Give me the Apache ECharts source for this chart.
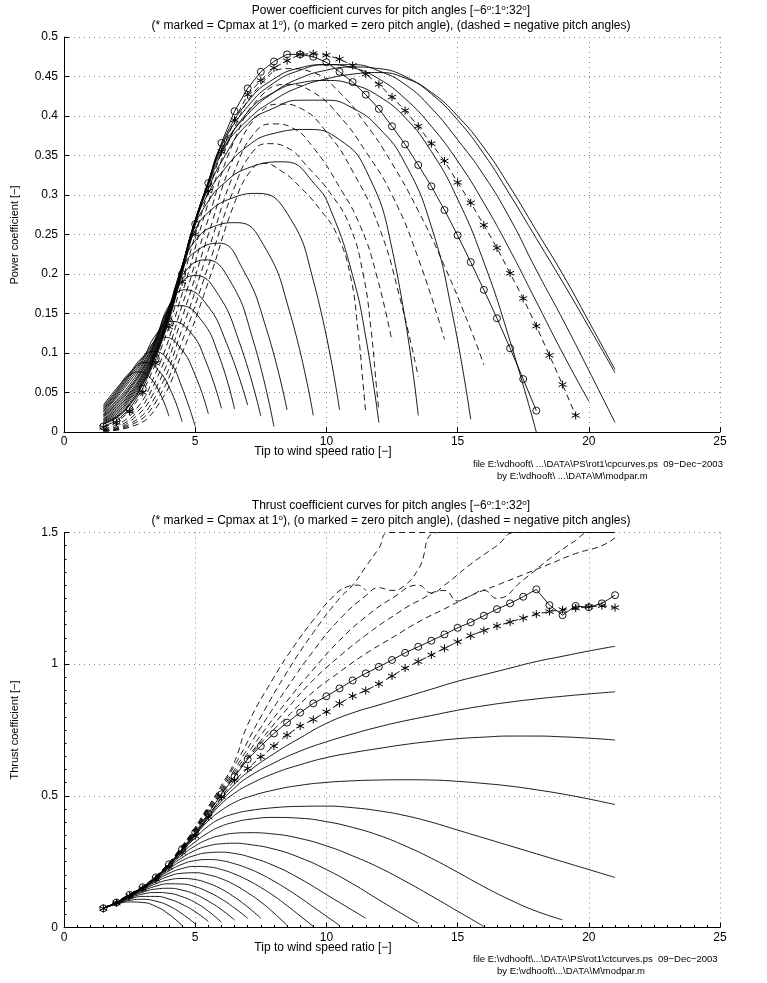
<!DOCTYPE html>
<html><head><meta charset="utf-8">
<script src="https://cdn.jsdelivr.net/npm/echarts@6/dist/echarts.min.js"></script>
<style>html,body{margin:0;padding:0;background:#fff}#c{width:767px;height:983px}</style>
</head><body><div id="c"></div><script>
// ---------- ticks ----------
const xTicks = [0, 5, 10, 15, 20, 25];
const cpTicks = [0, 0.05, 0.1, 0.15, 0.2, 0.25, 0.3, 0.35, 0.4, 0.45, 0.5];
const ctTicks = [0, 0.5, 1, 1.5];
// ---------- tip speed ratio grid for marked curves ----------
const lam = [1.5,2,2.5,3,3.5,4,4.5,5,5.5,6,6.5,7,7.5,8,8.5,9,9.5,10,10.5,11,11.5,12,12.5,13,13.5,14,14.5,15,15.5,16,16.5,17,17.5,18,18.5,19,19.5,20,20.5,21];
// ---------- power coefficient: zero pitch (o) and 1 deg (*) ----------
const cpZero = [0.007,0.014,0.029,0.055,0.093,0.14,0.20,0.263,0.315,0.366,0.406,0.435,0.456,0.469,0.478,0.478,0.475,0.468,0.456,0.443,0.427,0.409,0.387,0.364,0.338,0.311,0.281,0.249,0.215,0.18,0.144,0.106,0.067,0.027];
const cpOne = [0.006,0.012,0.026,0.05,0.087,0.133,0.19,0.25,0.305,0.355,0.395,0.427,0.445,0.461,0.47,0.478,0.479,0.477,0.472,0.464,0.453,0.44,0.424,0.407,0.387,0.365,0.343,0.316,0.29,0.262,0.233,0.201,0.169,0.134,0.097,0.06,0.021];
// ---------- power coefficient: negative pitch (dashed) ----------
const cpNeg1 = [[1.5,0.004],[2.5,0.02],[3.5,0.075],[4.5,0.175],[5.5,0.29],[6.5,0.385],[7.5,0.44],[8.5,0.46],[9.5,0.455],[10.5,0.43],[11.5,0.39],[12.5,0.34],[13.5,0.28],[14.5,0.21],[15.5,0.13],[16,0.085]];
const cpNeg2 = [[1.5,0.003],[2.5,0.016],[3.5,0.065],[4.5,0.16],[5.5,0.27],[6.5,0.37],[7.5,0.425],[8.5,0.44],[9.5,0.43],[10.5,0.4],[11.5,0.355],[12.5,0.3],[13.5,0.22],[14.5,0.117]];
const cpNeg3 = [[1.5,0.002],[2.5,0.013],[3.5,0.055],[4.5,0.145],[5.5,0.25],[6.5,0.35],[7.5,0.405],[8.3,0.415],[9,0.41],[10,0.38],[11,0.33],[12,0.26],[12.8,0.17],[13.5,0.07]];
const cpNeg4 = [[1.5,0.002],[2.5,0.01],[3.5,0.046],[4.5,0.13],[5.5,0.23],[6.5,0.33],[7.3,0.38],[8,0.39],[8.7,0.385],[9.5,0.36],[10.5,0.31],[11.3,0.26],[11.9,0.2],[12.5,0.115]];
const cpNeg5 = [[1.5,0.001],[2.5,0.008],[3.5,0.038],[4.5,0.115],[5.5,0.21],[6.5,0.31],[7.2,0.355],[7.8,0.365],[8.5,0.36],[9.3,0.335],[10.2,0.3],[10.9,0.26],[11.4,0.2],[11.7,0.13],[11.9,0.06],[12,0.026]];
const cpNeg6 = [[1.5,0.001],[2.5,0.006],[3.5,0.03],[4.5,0.1],[5.5,0.19],[6.5,0.29],[7.1,0.33],[7.6,0.34],[8.3,0.33],[9,0.31],[9.8,0.28],[10.4,0.25],[10.9,0.2],[11.2,0.13],[11.4,0.06],[11.5,0.024]];
// ---------- power coefficient: positive pitch (solid) ----------
const cpP01 = [[1.5,0.034],[2,0.055],[2.5,0.072],[2.9,0.076],[3.3,0.068],[3.7,0.046],[4,0.02]];
const cpP02 = [[1.5,0.032],[2,0.053],[2.5,0.075],[3.1,0.088],[3.6,0.078],[4.1,0.05],[4.5,0.013]];
const cpP03 = [[1.5,0.03],[2,0.051],[2.5,0.074],[3,0.095],[3.4,0.102],[4,0.09],[4.5,0.056],[5,0.007]];
const cpP04 = [[1.5,0.029],[2,0.049],[2.5,0.072],[3,0.094],[3.5,0.116],[3.8,0.12],[4.4,0.108],[5,0.072],[5.5,0.023]];
const cpP05 = [[1.5,0.027],[2,0.047],[2.5,0.07],[3,0.092],[3.5,0.123],[4.1,0.14],[4.8,0.127],[5.4,0.09],[6,0.03]];
const cpP06 = [[1.5,0.026],[2,0.045],[2.5,0.067],[3,0.09],[3.5,0.12],[4,0.155],[4.4,0.16],[5.2,0.143],[5.9,0.097],[6.5,0.029]];
const cpP07 = [[1.5,0.025],[2,0.043],[2.5,0.064],[3,0.087],[3.5,0.118],[4,0.16],[4.6,0.18],[5.4,0.163],[6.2,0.112],[7,0.034]];
const cpP08 = [[1.5,0.023],[2,0.04],[2.5,0.06],[3,0.085],[3.5,0.117],[4,0.158],[4.5,0.19],[5,0.198],[5.8,0.178],[6.7,0.112],[7.5,0.02]];
const cpP09 = [[1.5,0.022],[2,0.038],[2.5,0.057],[3,0.082],[3.5,0.115],[4,0.158],[4.5,0.198],[5.4,0.218],[6.3,0.193],[7.2,0.117],[8,0.007]];
const cpP10 = [[1.5,0.021],[2,0.036],[2.5,0.055],[3,0.08],[3.5,0.114],[4,0.156],[4.5,0.205],[5,0.228],[5.9,0.239],[6.8,0.207],[7.7,0.132],[8.5,0.028]];
const cpP11 = [[1.5,0.02],[2,0.034],[2.5,0.053],[3,0.078],[3.5,0.112],[4,0.155],[4.5,0.21],[5,0.242],[5.7,0.26],[6.6,0.265],[7.6,0.237],[8.6,0.152],[9.5,0.021]];
const cpP12 = [[1.5,0.019],[2,0.032],[2.5,0.05],[3,0.075],[3.5,0.11],[4,0.154],[4.5,0.21],[5,0.255],[5.5,0.278],[6.4,0.296],[7.4,0.302],[8.5,0.277],[9.5,0.192],[10.5,0.028]];
const cpP13 = [[1.5,0.017],[2,0.03],[2.5,0.048],[3,0.073],[3.5,0.108],[4,0.152],[4.5,0.21],[5,0.262],[5.5,0.292],[6,0.312],[7,0.334],[8.4,0.342],[9.6,0.312],[10.2,0.278],[11,0.198],[11.5,0.12],[12,0.012]];
const cpP14 = [[1.5,0.016],[2,0.028],[2.5,0.046],[3,0.071],[3.5,0.106],[4,0.15],[4.5,0.21],[5,0.266],[5.5,0.302],[6,0.328],[7,0.362],[8,0.378],[9.3,0.383],[10.5,0.37],[11.5,0.332],[12.5,0.232],[13.5,0.021]];
const cpP15 = [[1.5,0.015],[2,0.026],[2.5,0.044],[3,0.069],[3.5,0.104],[4,0.149],[4.5,0.209],[5,0.268],[5.5,0.308],[6,0.342],[7,0.39],[8,0.41],[9,0.42],[10,0.42],[11,0.41],[12,0.385],[13,0.34],[14,0.26],[14.8,0.15],[15.5,0.016]];
const cpP16 = [[1.5,0.014],[2,0.024],[2.5,0.042],[3,0.067],[3.5,0.103],[4,0.148],[4.5,0.208],[5,0.268],[5.5,0.312],[6,0.352],[7,0.405],[8,0.43],[9,0.442],[10,0.445],[11,0.44],[12,0.425],[13,0.398],[14,0.355],[15,0.295],[16,0.215],[17,0.115],[18,0.0]];
const cpP17 = [[1.5,0.013],[2,0.022],[2.5,0.04],[3,0.065],[3.5,0.101],[4,0.147],[4.5,0.207],[5,0.268],[5.5,0.314],[6,0.355],[7,0.395],[8,0.42],[9,0.437],[10,0.447],[11,0.453],[12,0.455],[13,0.448],[14,0.43],[15,0.4],[16,0.36],[17,0.31],[18,0.255],[19,0.2],[20,0.14],[21,0.079]];
const cpP18 = [[1.5,0.012],[2,0.02],[2.5,0.037],[3,0.063],[3.5,0.1],[4,0.146],[4.5,0.206],[5,0.268],[5.5,0.316],[6,0.358],[7,0.402],[8,0.43],[9,0.448],[10,0.458],[11,0.462],[12,0.46],[13,0.45],[14,0.428],[15,0.395],[16,0.352],[17,0.3],[18,0.245],[19,0.19],[20,0.133],[21,0.075]];
const cpP19 = [[1.5,0.011],[2,0.019],[2.5,0.035],[3,0.061],[3.5,0.098],[4,0.145],[4.5,0.205],[5,0.267],[5.5,0.317],[6,0.362],[7,0.412],[8,0.442],[9,0.458],[10,0.465],[11,0.465],[12,0.457],[13,0.44],[14,0.41],[15,0.37],[16,0.325],[17,0.27],[18,0.205],[19,0.143],[20,0.078],[21,0.012]];
const cpP20 = [[1.5,0.01],[2,0.018],[2.5,0.034],[3,0.06],[3.5,0.097],[4,0.144],[4.5,0.204],[5,0.266],[5.5,0.317],[6,0.364],[7,0.418],[8,0.447],[9,0.461],[10,0.465],[11,0.461],[12,0.447],[13,0.422],[14,0.387],[15,0.343],[16,0.29],[17,0.23],[18,0.165],[19,0.1],[20,0.039]];
// ---------- thrust coefficient: zero pitch (o) and 1 deg (*) ----------
const ctZero = [0.073,0.095,0.124,0.153,0.19,0.24,0.298,0.361,0.433,0.506,0.573,0.639,0.689,0.737,0.778,0.816,0.851,0.878,0.908,0.938,0.965,0.99,1.016,1.043,1.066,1.089,1.113,1.138,1.159,1.184,1.209,1.231,1.256,1.284,1.224,1.186,1.221,1.216,1.231,1.262];
const ctOne = [0.072,0.093,0.12,0.148,0.183,0.23,0.285,0.347,0.42,0.497,0.56,0.604,0.648,0.689,0.731,0.765,0.79,0.819,0.851,0.879,0.9,0.925,0.955,0.985,1.01,1.035,1.06,1.085,1.108,1.128,1.145,1.16,1.175,1.19,1.2,1.207,1.213,1.218,1.222,1.215];
// ---------- thrust coefficient: negative pitch (dashed) ----------
const ctNeg6 = [[1.5,0.074],[2.5,0.126],[3.5,0.196],[4.5,0.31],[5.5,0.46],[6,0.54],[6.5,0.63],[7,0.77],[8,0.95],[8.75,1.066],[9.5,1.167],[10.25,1.256],[10.8,1.294],[11.2,1.3],[11.5,1.28]];
const ctNeg5 = [[1.5,0.074],[2.5,0.126],[3.5,0.195],[4.5,0.308],[5.5,0.455],[6.5,0.615],[7.5,0.8],[8.5,0.97],[9.5,1.12],[10.5,1.25],[11,1.3],[11.5,1.37],[12,1.44],[12.4,1.5],[21,1.5]];
const ctNeg4 = [[1.5,0.074],[2.5,0.125],[3.5,0.194],[4.5,0.305],[5.5,0.45],[6.5,0.6],[7.5,0.76],[8.5,0.91],[9.5,1.05],[10.5,1.17],[11.5,1.26],[12,1.29],[12.5,1.28],[13,1.3],[13.5,1.36],[14.3,1.5],[21,1.5]];
const ctNeg3 = [[1.5,0.074],[2.5,0.125],[3.5,0.193],[4.5,0.303],[5.5,0.445],[6.5,0.59],[7.5,0.73],[8.5,0.86],[9.5,0.98],[10.5,1.09],[11.5,1.18],[12.5,1.25],[13.5,1.3],[14,1.27],[14.5,1.3],[15.5,1.38],[16.5,1.45],[17.2,1.5],[21,1.5]];
const ctNeg2 = [[1.5,0.074],[2.5,0.125],[3.5,0.192],[4.5,0.302],[5.5,0.44],[6.5,0.58],[7.5,0.71],[8.5,0.83],[9.5,0.94],[10.5,1.03],[11.5,1.11],[12.5,1.18],[13.5,1.24],[14.5,1.28],[15,1.24],[15.5,1.26],[16,1.28],[16.5,1.25],[17.5,1.32],[18.5,1.4],[19.5,1.47],[20,1.5],[21,1.5]];
const ctNeg1 = [[1.5,0.074],[2.5,0.125],[3.5,0.191],[4.5,0.3],[5.5,0.437],[6.5,0.575],[7.5,0.7],[8.5,0.8],[9.5,0.895],[10.5,0.97],[11.5,1.04],[12.5,1.1],[13.5,1.16],[14.5,1.21],[15.5,1.26],[16.5,1.3],[17.5,1.34],[18.5,1.38],[19.5,1.42],[20.5,1.45],[21,1.48]];
// ---------- thrust coefficient: positive pitch (solid) ----------
const ctP01 = [[1.5,0.073],[2,0.088],[2.5,0.097],[3,0.095],[3.5,0.08],[4,0.05],[4.5,0.008]];
const ctP02 = [[1.5,0.073],[2,0.09],[2.5,0.103],[3,0.107],[3.5,0.1],[4,0.082],[4.5,0.052],[5,0.014]];
const ctP03 = [[1.5,0.073],[2,0.091],[2.5,0.108],[3,0.118],[3.5,0.118],[4,0.108],[4.5,0.088],[5,0.06],[5.5,0.023]];
const ctP04 = [[1.5,0.073],[2,0.092],[2.5,0.112],[3,0.127],[3.5,0.133],[4,0.13],[4.5,0.117],[5,0.095],[5.5,0.062],[6,0.02]];
const ctP05 = [[1.5,0.073],[2,0.093],[2.5,0.115],[3,0.134],[3.5,0.146],[4,0.149],[4.5,0.142],[5,0.126],[5.5,0.1],[6,0.068],[6.5,0.028]];
const ctP06 = [[1.5,0.073],[2,0.093],[2.5,0.117],[3,0.139],[3.5,0.157],[4,0.166],[4.5,0.165],[5,0.155],[5.5,0.135],[6,0.108],[6.5,0.074],[7,0.035]];
const ctP07 = [[1.5,0.073],[2,0.094],[2.5,0.118],[3,0.143],[3.5,0.166],[4,0.181],[4.5,0.186],[5,0.182],[5.5,0.168],[6,0.146],[6.5,0.115],[7,0.078],[7.5,0.035]];
const ctP08 = [[1.5,0.073],[2,0.094],[2.5,0.119],[3,0.146],[3.5,0.173],[4,0.195],[4.5,0.206],[5,0.208],[5.5,0.2],[6,0.185],[6.5,0.162],[7,0.132],[7.5,0.097],[8,0.055],[8.5,0.008]];
const ctP09 = [[1.5,0.073],[2,0.094],[2.5,0.12],[3,0.148],[3.5,0.178],[4,0.206],[4.5,0.224],[5,0.232],[5.5,0.23],[6,0.22],[6.5,0.203],[7,0.18],[7.5,0.152],[8,0.12],[8.5,0.083],[9,0.044],[9.5,0.004]];
const ctP10 = [[1.5,0.073],[2,0.094],[2.5,0.121],[3,0.15],[3.5,0.182],[4,0.215],[4.5,0.24],[5,0.254],[5.5,0.258],[6,0.254],[6.5,0.242],[7,0.225],[7.5,0.203],[8,0.176],[8.5,0.146],[9,0.113],[9.5,0.078],[10,0.043],[10.5,0.008]];
const ctP11 = [[1.5,0.073],[2,0.094],[2.5,0.121],[3,0.151],[3.5,0.185],[4,0.222],[4.5,0.254],[5,0.274],[5.5,0.284],[6,0.286],[6.5,0.281],[7,0.27],[8,0.235],[9,0.185],[10,0.125],[11,0.065],[11.5,0.035]];
const ctP12 = [[1.5,0.073],[2,0.094],[2.5,0.122],[3,0.152],[3.5,0.187],[4,0.228],[4.5,0.265],[5,0.293],[5.5,0.31],[6,0.318],[6.5,0.32],[7,0.316],[8,0.298],[9,0.265],[10,0.22],[11,0.166],[12,0.105],[13,0.045],[13.5,0.016]];
const ctP13 = [[1.5,0.073],[2,0.094],[2.5,0.122],[3,0.152],[3.5,0.188],[4,0.232],[4.5,0.275],[5,0.31],[5.5,0.335],[6,0.35],[6.5,0.358],[7,0.36],[8,0.355],[9,0.338],[10,0.31],[11,0.272],[12,0.228],[13,0.176],[14,0.12],[15,0.062],[16,0.004]];
const ctP14 = [[1.5,0.073],[2,0.094],[2.5,0.123],[3,0.153],[3.5,0.189],[4,0.235],[4.5,0.283],[5,0.325],[5.5,0.36],[6,0.385],[6.5,0.4],[7,0.41],[8,0.418],[9,0.415],[10,0.402],[11,0.38],[12,0.35],[13,0.31],[14,0.263],[15,0.21],[16,0.155],[17,0.105],[18,0.062],[19,0.029]];
const ctP15 = [[1.5,0.073],[2,0.094],[2.5,0.123],[3,0.153],[3.5,0.19],[4,0.237],[4.5,0.29],[5,0.34],[5.5,0.385],[6,0.415],[6.5,0.432],[7,0.443],[8,0.455],[9,0.46],[10,0.461],[11,0.455],[12,0.443],[13,0.425],[14,0.4],[15,0.37],[16,0.34],[17,0.31],[18,0.28],[19,0.25],[20,0.22],[21,0.19]];
const ctP16 = [[1.5,0.073],[2,0.094],[2.5,0.123],[3,0.153],[3.5,0.19],[4,0.238],[4.5,0.293],[5,0.35],[5.5,0.405],[6,0.445],[6.5,0.475],[7,0.495],[8,0.522],[9,0.54],[10,0.551],[11,0.557],[12,0.56],[13,0.561],[14,0.56],[15,0.555],[16,0.547],[17,0.537],[18,0.523],[19,0.507],[20,0.488],[21,0.467]];
const ctP17 = [[1.5,0.073],[2,0.095],[2.5,0.124],[3,0.153],[3.5,0.19],[4,0.238],[4.5,0.294],[5,0.353],[5.5,0.415],[6,0.47],[6.5,0.51],[7,0.54],[8,0.585],[9,0.618],[10,0.645],[11,0.664],[12,0.68],[13,0.695],[14,0.707],[15,0.717],[16,0.723],[17,0.727],[18,0.727],[19,0.724],[20,0.719],[21,0.712]];
const ctP18 = [[1.5,0.073],[2,0.095],[2.5,0.124],[3,0.153],[3.5,0.19],[4,0.239],[4.5,0.295],[5,0.355],[5.5,0.42],[6,0.48],[6.5,0.53],[7,0.57],[8,0.625],[9,0.67],[10,0.705],[11,0.735],[12,0.762],[13,0.785],[14,0.805],[15,0.825],[16,0.842],[17,0.856],[18,0.868],[19,0.878],[20,0.887],[21,0.895]];
const ctP19 = [[1.5,0.073],[2,0.095],[2.5,0.124],[3,0.153],[3.5,0.19],[4,0.239],[4.5,0.296],[5,0.357],[5.5,0.425],[6,0.49],[6.5,0.545],[7,0.59],[8,0.66],[9,0.72],[10,0.775],[11,0.815],[12,0.845],[13,0.875],[14,0.905],[15,0.935],[16,0.96],[17,0.985],[18,1.01],[19,1.03],[20,1.05],[21,1.068]];

// ---------- build ----------
const FONT = '"Liberation Sans", Arial, Helvetica, sans-serif';
const cpPos = [cpP01,cpP02,cpP03,cpP04,cpP05,cpP06,cpP07,cpP08,cpP09,cpP10,cpP11,cpP12,cpP13,cpP14,cpP15,cpP16,cpP17,cpP18,cpP19,cpP20];
const cpNeg = [cpNeg1,cpNeg2,cpNeg3,cpNeg4,cpNeg5,cpNeg6];
const ctPos = [ctP01,ctP02,ctP03,ctP04,ctP05,ctP06,ctP07,ctP08,ctP09,ctP10,ctP11,ctP12,ctP13,ctP14,ctP15,ctP16,ctP17,ctP18,ctP19];
const ctNeg = [ctNeg1,ctNeg2,ctNeg3,ctNeg4,ctNeg5,ctNeg6];
const zip = (vals) => vals.map((v, i) => [lam[i], v]);
const DASH = [6, 4];
function curve(data, gi, dashed) {
  return { type: 'line', xAxisIndex: gi, yAxisIndex: gi, data: data, symbol: 'none', showSymbol: false,
    smooth: 0.5, silent: true, animation: false, clip: true,
    lineStyle: { color: '#000', width: 0.9, type: dashed ? DASH : 'solid' } };
}
const STAR = 'path://M0,-5L0,5M-4.33,-2.5L4.33,2.5M-4.33,2.5L4.33,-2.5';
function marked(vals, gi, kind) {
  const s = { type: 'line', xAxisIndex: gi, yAxisIndex: gi, data: zip(vals), silent: true, animation: false,
    showSymbol: true, showAllSymbol: true, clip: true, z: 5,
    lineStyle: { color: '#000', width: 0.9, type: kind === 'star' ? DASH : 'solid' } };
  if (kind === 'star') {
    s.symbol = STAR; s.symbolSize = 8;
    s.itemStyle = { color: 'rgba(0,0,0,0)', borderColor: '#000', borderWidth: 1 };
  } else {
    s.symbol = 'circle'; s.symbolSize = 7;
    s.itemStyle = { color: 'rgba(0,0,0,0)', borderColor: '#000', borderWidth: 0.9 };
  }
  return s;
}
const series = [];
cpPos.forEach(d => series.push(curve(d, 0, false)));
cpNeg.forEach(d => series.push(curve(d, 0, true)));
series.push(marked(cpZero, 0, 'circle'));
series.push(marked(cpOne, 0, 'star'));
ctPos.forEach(d => series.push(curve(d, 1, false)));
ctNeg.forEach(d => series.push(curve(d, 1, true)));
series.push(marked(ctZero, 1, 'circle'));
series.push(marked(ctOne, 1, 'star'));

const gridLine = { show: true, lineStyle: { color: '#8a8a8a', width: 1, type: [1, 4] } };
function xAx(gi, minor) {
  return { gridIndex: gi, type: 'value', min: xTicks[0], max: xTicks[xTicks.length - 1], interval: xTicks[1] - xTicks[0],
    axisLine: { onZero: false, lineStyle: { color: '#000', width: 1 } },
    axisTick: { inside: true, length: 5, lineStyle: { color: '#000' } },
    minorTick: { show: minor, splitNumber: 10, length: 2.5, lineStyle: { color: '#000' } },
    axisLabel: { color: '#000', fontSize: 12, fontFamily: FONT, margin: 4 },
    splitLine: gridLine };
}
function yAx(gi, ticks, minor) {
  return { gridIndex: gi, type: 'value', min: ticks[0], max: ticks[ticks.length - 1], interval: ticks[1] - ticks[0],
    axisLine: { onZero: false, lineStyle: { color: '#000', width: 1 } },
    axisTick: { inside: true, length: 5, lineStyle: { color: '#000' } },
    minorTick: { show: minor, splitNumber: 10, length: 2.5, lineStyle: { color: '#000' } },
    axisLabel: { color: '#000', fontSize: 12, fontFamily: FONT, margin: 6 },
    splitLine: gridLine };
}
const rich = {
  a: { fontSize: 12, fontFamily: FONT, color: '#000', lineHeight: 14 },
  s: { fontSize: 8, fontFamily: FONT, color: '#000', lineHeight: 14, verticalAlign: 'top', padding: [0, 0, 6, 0] }
};
function titleText(y, text) {
  return { type: 'text', x: 391, y: y, silent: true,
    style: { text: text, rich: rich, align: 'center', verticalAlign: 'middle', fill: '#000' } };
}
function plain(x, y, text, size, align, rot) {
  return { type: 'text', x: x, y: y, rotation: rot || 0, silent: true,
    style: { text: text, fontSize: size, fontFamily: FONT, fill: '#000', align: align, verticalAlign: 'middle' } };
}
const pitchTag = '{a|pitch angles [−6}{s|o}{a|:1}{s|o}{a|:32}{s|o}{a|]}';
const subTag = '{a|(* marked = Cpmax at 1}{s|o}{a|), (o marked = zero pitch angle), (dashed = negative pitch angles)}';
const graphic = [
  titleText(11, '{a|Power coefficient curves for }' + pitchTag),
  titleText(26, subTag),
  plain(323, 452, 'Tip to wind speed ratio [−]', 12, 'center'),
  plain(15, 235, 'Power coefficient [−]', 11, 'center', Math.PI / 2),
  plain(473, 464, 'file E:\\vdhooft\\ ...\\DATA\\PS\\rot1\\cpcurves.ps  09−Dec−2003', 9.5, 'left'),
  plain(497, 476, 'by E:\\vdhooft\\ ...\\DATA\\M\\modpar.m', 9.5, 'left'),
  titleText(506, '{a|Thrust coefficient curves for }' + pitchTag),
  titleText(521, subTag),
  plain(323, 948, 'Tip to wind speed ratio [−]', 12, 'center'),
  plain(15, 730, 'Thrust coefficient [−]', 11, 'center', Math.PI / 2),
  plain(473, 959, 'file E:\\vdhooft\\...\\DATA\\PS\\rot1\\ctcurves.ps  09−Dec−2003', 9.5, 'left'),
  plain(497, 971, 'by E:\\vdhooft\\...\\DATA\\M\\modpar.m', 9.5, 'left')
];
const chart = echarts.init(document.getElementById('c'), null, { renderer: 'canvas' });
chart.setOption({
  animation: false,
  backgroundColor: '#fff',
  grid: [
    { left: 64, top: 37, width: 656, height: 395, containLabel: false },
    { left: 64, top: 532.5, width: 656, height: 395, containLabel: false }
  ],
  xAxis: [xAx(0, false), xAx(1, true)],
  yAxis: [yAx(0, cpTicks, false), yAx(1, ctTicks, true)],
  series: series,
  graphic: graphic
});
</script></body></html>
